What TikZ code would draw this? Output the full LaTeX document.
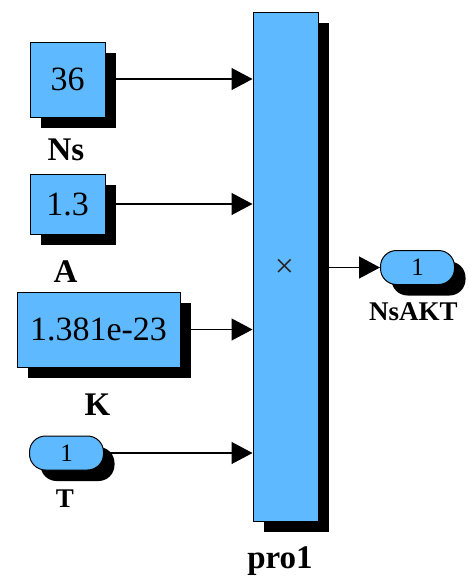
\documentclass[tikz,border=0pt]{standalone}
\usepackage{fontspec}
\setmainfont{Liberation Serif}
\usetikzlibrary{shadows,arrows.meta}
\definecolor{blk}{RGB}{95,185,255}
\tikzset{
  blockbox/.style={draw=black, line width=1pt, fill=blk, inner sep=0pt,
    drop shadow={shadow xshift=11pt, shadow yshift=-11pt, opacity=1, fill=black}},
  portbox/.style={blockbox, rounded corners=16pt, minimum width=74pt, minimum height=34pt,
    font=\rmfamily\fontsize{25}{25}\selectfont},
  valtext/.style={font=\rmfamily\fontsize{34}{34}\selectfont},
  lbl/.style={anchor=base, font=\rmfamily\fontsize{33}{33}\selectfont\bfseries},
  plbl/.style={anchor=base, font=\rmfamily\fontsize{27}{27}\selectfont\bfseries},
  wire/.style={line width=1.3pt, -{Triangle[length=21pt,width=22pt]}}
}
\begin{document}
\begin{tikzpicture}[x=1pt,y=-1pt]
\useasboundingbox (0,0) rectangle (469,584);
% blocks
\node[blockbox, valtext, minimum width=75pt, minimum height=75pt] (c36) at (67.5,79.5) {36};
\node[blockbox, valtext, minimum width=75pt, minimum height=60pt] (c13) at (67.5,204) {1.3};
\node[blockbox, valtext, minimum width=163pt, minimum height=75pt] (cK) at (98.5,329.5) {1.381e-23};
\node[portbox] (pT) at (66.5,453) {1};
\node[blockbox, minimum width=65pt, minimum height=509pt] (prod) at (285.5,266.5) {};
\node[font=\rmfamily\fontsize{34}{34}\selectfont, text=black!85, inner sep=0pt] (mul) at (284.5,268) {×};
\node[portbox] (out) at (417.5,267.5) {1};
% labels
\node[lbl] (lNs) at (66,160) {Ns};
\node[lbl] (lA) at (65.5,282) {A};
\node[lbl] (lK) at (97.5,415) {K};
\node[plbl] (lT) at (65,507) {T};
\node[plbl] (lOut) at (413.5,320) {NsAKT};
\node[lbl] (lP) at (280,568) {pro1};
% wires
\draw[wire] (c36.east |- 0,79) -- (prod.west |- 0,79);
\draw[wire] (c13.east) -- (prod.west |- c13.east);
\draw[wire] (cK.east) -- (prod.west |- cK.east);
\draw[wire] (pT.east) -- (prod.west |- pT.east);
\draw[wire] (prod.east |- out.west) -- (out.west);
\end{tikzpicture}
\end{document}
